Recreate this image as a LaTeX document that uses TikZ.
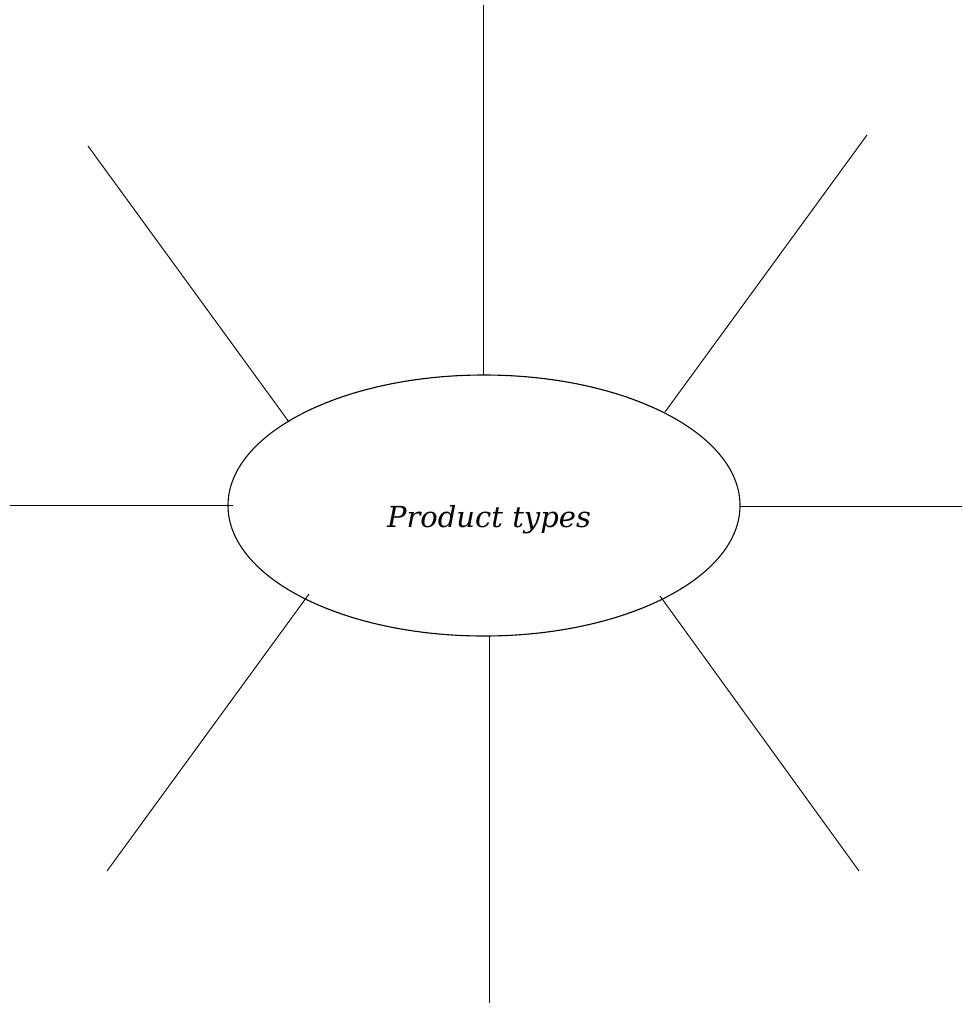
\documentclass[tikz,border=0pt]{standalone}
\usepackage{fontspec}
\newfontfamily\labelfont{DejaVu Serif}
\usetikzlibrary{shapes.geometric}
\tikzset{
  spoke/.style={draw=black, line width=1pt},
  hub/.style={draw=black, line width=1.1pt, ellipse, inner sep=0pt,
    minimum width=512pt, minimum height=261pt},
  hubtext/.style={inner sep=0pt, anchor=base,
    font=\labelfont\itshape\fontsize{29}{34}\selectfont}
}
\begin{document}
\begin{tikzpicture}[x=1pt, y=-1pt]
\useasboundingbox (0,0) rectangle (963,1009);
\node[hub] (c) at (484,505.5) {};
\node[hubtext] (lbl) at (489,527) {Product types};
% spoke endpoints
\coordinate (t1) at (483.5,5);   \coordinate (t2) at (483.5,375);
\coordinate (tr1) at (867,135);  \coordinate (tr2) at (665,412);
\coordinate (r1) at (962,506);   \coordinate (r2) at (740,506);
\coordinate (br1) at (859,871);  \coordinate (br2) at (660,596);
\coordinate (b1) at (489,1003);  \coordinate (b2) at (489,636);
\coordinate (bl1) at (107,871);  \coordinate (bl2) at (309,594);
\coordinate (l1) at (10,505);    \coordinate (l2) at (233,505);
\coordinate (tl1) at (88,146);   \coordinate (tl2) at (289,422);
\foreach \s in {t,tr,r,br,b,bl,l,tl} {
  \draw[spoke] (\s1) -- (\s2);
}
\end{tikzpicture}
\end{document}
